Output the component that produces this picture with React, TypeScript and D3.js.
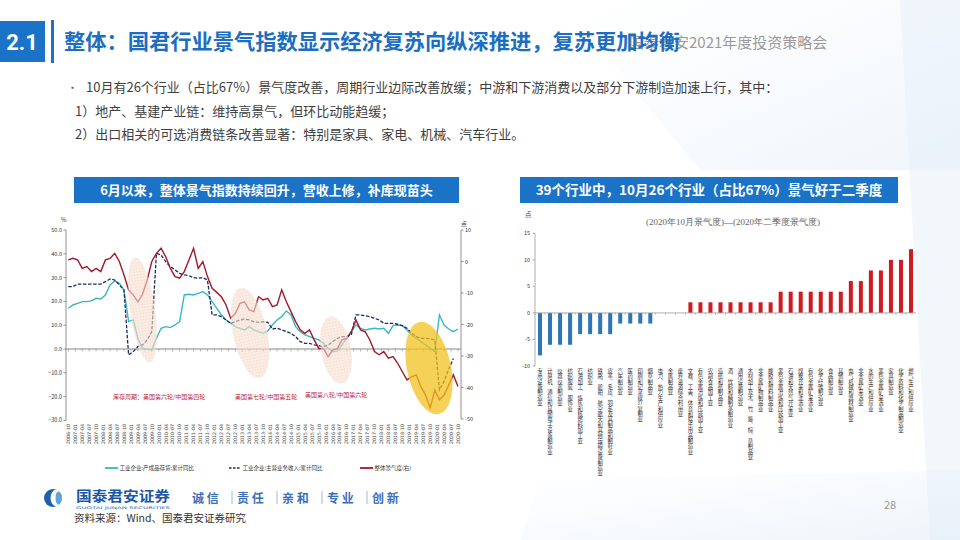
import React from "react";
import * as d3 from "d3";

// ---------- Data ----------
const START_YEAR = 2006;
const START_MONTH = 10;
function monthLabel(m: number): string {
  const t = START_MONTH - 1 + m;
  const y = START_YEAR + Math.floor(t / 12);
  const mo = (t % 12) + 1;
  return `${y}-${String(mo).padStart(2, "0")}`;
}
function monthIndex(s: string): number {
  const [y, mo] = s.split("-").map(Number);
  return (y - START_YEAR) * 12 + (mo - START_MONTH);
}

// bimonthly sample dates 2006-10 ... 2020-10
const sampleDates = d3.range(0, 169, 2).map(monthLabel);
// quarterly tick labels
const xTickLabels = d3.range(0, 169, 3).map(monthLabel);

// 工业企业:产成品存货:累计同比 (left axis, %)
const inventoryYoY = [
  17.1, 18.5, 19.2, 19.9, 19.9, 20.2, 21.3, 21.0, 22.7, 26.9, 28.6, 27.6, 24.8,
  11.5, 12.2, 4.5, 0.3, -0.1, -0.4, 4.5, 8.7, 9.4, 9.0, 10.1, 11.5, 22.7, 23.0,
  22.7, 23.4, 24.1, 22.7, 19.9, 17.1, 14.3, 12.2, 10.8, 9.4, 8.7, 8.0, 9.4, 8.0,
  7.3, 6.6, 7.6, 10.1, 12.2, 13.6, 16.0, 14.3, 9.4, 7.3, 5.9, 5.2, 4.5, 3.8, 2.4,
  0.3, -1.1, -0.8, 1.7, 4.5, 7.3, 10.1, 8.7, 8.0, 8.4, 8.7, 8.4, 8.7, 6.6, 9.8,
  10.1, 9.8, 8.0, 5.9, 4.5, 3.1, 1.7, 0.3, -1.1, 14.3, 10.1, 8.4, 7.3, 8.4,
];

// 工业企业:主营业务收入:累计同比 (left axis, %)
const revenueYoY: (number | null)[] = [
  26.2, 26.2, 27.3, 27.3, 27.3, 27.3, 27.3, 27.3, 28.3, 29.4, 29.0, 26.9, 24.8,
  -2.5, -1.1, 1.0, 1.7, 3.8, 7.3, 40.2, 39.5, 36.7, 34.6, 33.2, 31.8, 31.1, 30.8,
  30.0, 29.7, 30.0, 29.0, 14.3, 14.3, 13.6, 12.2, 10.8, 11.5, 12.2, 12.6, 12.2,
  11.5, 11.2, 11.5, 11.2, 8.4, 8.7, 8.0, 7.3, 6.6, 5.2, 3.1, 2.4, 2.4, 1.7, 1.4,
  1.0, 1.7, 3.1, 4.5, 5.2, 5.2, 5.9, 14.3, 14.3, 14.0, 13.6, 12.9, 12.2, 10.8,
  10.8, 10.8, 10.4, 9.8, 8.7, 6.6, 5.2, 4.5, 4.5, 4.2, 3.8, -17.2, -13.5, -8.5,
  -4.0, null,
];

// 整体景气度 (right axis, 点)
const prosperity = [
  0.5, 1.0, 0.5, -2.2, -1.6, -3.2, -2.2, -3.2, 0.5, 1.0, 2.6, 0.0, -4.3, -9.0,
  -10.6, -12.8, -10.4, -5.9, 0.0, 2.6, 4.2, 1.5, -2.2, -4.8, -5.3, -3.2, 0.5, 4.2,
  -2.2, 0.0, -4.8, -8.5, -9.8, -11.2, -13.8, -18.0, -16.5, -13.3, -12.8, -15.4,
  -15.9, -11.2, -12.2, -11.7, -14.3, -13.8, -9.0, -12.8, -15.9, -19.1, -21.7,
  -22.8, -21.7, -24.9, -27.6, -27.6, -30.2, -28.1, -27.6, -24.9, -24.4, -22.3,
  -18.6, -21.7, -22.3, -24.9, -28.6, -29.6, -28.6, -30.7, -30.2, -32.3, -35.0,
  -37.6, -36.6, -36.0, -39.7, -42.4, -46.5, -40.8, -43.9, -42.4, -39.2, -36.0,
  -39.7,
];

const leftTicks = [50, 40, 30, 20, 10, 0, -10, -20, -30];
const rightTicks = [10, 0, -10, -20, -30, -40, -50];

const legendNames = [
  "工业企业:产成品存货:累计同比",
  "工业企业:主营业务收入:累计同比",
  "整体景气度(右)",
];
const cycleNotes = [
  "库存周期：美国第六轮/中国第四轮",
  "美国第七轮/中国第五轮",
  "美国第八轮/中国第六轮",
];

// Right chart: industries and change of prosperity (点)
const industries = [
  "专用设备制造业",
  "计算机、通信和其他电子设备制造业",
  "仪器仪表制造业",
  "纺织服装、服饰业",
  "石油加工、炼焦和核燃料加工业",
  "纺织业",
  "铁路、船舶、航空航天和其他运输设备制造业",
  "皮革、毛皮、羽毛及其制品和制鞋业",
  "汽车制造业",
  "医药制造业",
  "印刷和记录媒介复制业",
  "烟草制品业",
  "电力、热力生产和供应业",
  "金属制品业",
  "废弃资源综合利用业",
  "文教、工美、体育和娱乐用品制造业",
  "有色金属冶炼和压延加工业",
  "农副食品加工业",
  "造纸和纸制品业",
  "酒、饮料和精制茶制造业",
  "通用设备制造业",
  "木材加工及木、竹、藤、棕、草制品业",
  "非金属矿物制品业",
  "橡胶和塑料制品业",
  "黑色金属冶炼和压延加工业",
  "石油和天然气开采业",
  "煤炭开采和洗选业",
  "有色金属矿采选业",
  "化学纤维制造业",
  "食品制造业",
  "其他制造业",
  "电气机械和器材制造业",
  "非金属矿采选业",
  "水的生产和供应业",
  "黑色金属矿采选业",
  "家具制造业",
  "化学原料和化学制品制造业",
  "燃气生产和供应业",
];
const industryDelta = [
  -8, -6, -6, -6, -4, -4, -4, -4, -2, -2, -2, -2, 0, 0, 0, 2, 2, 2, 2, 2, 2, 2, 2,
  2, 4, 4, 4, 4, 4, 4, 4, 6, 6, 8, 8, 10, 10, 12,
];
const barTicks = [15, 10, 5, 0, -5, -10];

const bulletLines = [
  "10月有26个行业（占比67%）景气度改善，周期行业边际改善放缓；中游和下游消费以及部分下游制造加速上行，其中：",
  "1）地产、基建产业链：维持高景气，但环比动能趋缓；",
  "2）出口相关的可选消费链条改善显著：特别是家具、家电、机械、汽车行业。",
];
const sloganWords = ["诚 信", "责 任", "亲 和", "专 业", "创 新"];

// ---------- Styles ----------
const CJK = "'Noto Sans CJK SC', 'Noto Sans', sans-serif";
const BLUE = "#1a73c6";
const CYAN = "#35b8c9";
const NAVY = "#1b2a5a";
const RED = "#a3182b";

export default function App() {
  // left chart scales
  const xL = d3.scaleLinear().domain([0, 168]).range([68.3, 458]);
  const yL = d3.scaleLinear().domain([-30, 50]).range([420.4, 230]);
  const yR = d3.scaleLinear().domain([-50, 10]).range([419, 230]);

  const lineL = d3
    .line<number | null>()
    .defined((v) => v != null)
    .x((_, i) => xL(monthIndex(sampleDates[i])))
    .y((v) => yL(v as number));
  const lineR = d3
    .line<number>()
    .x((_, i) => xL(monthIndex(sampleDates[i])))
    .y((v) => yR(v));

  // right chart scales
  const xB = d3
    .scaleBand<string>()
    .domain(industries)
    .range([535, 916])
    .paddingInner(0.6)
    .paddingOuter(0.3);
  const yB = d3.scaleLinear().domain([-10, 15]).range([366, 233.3]);

  const fmt1 = d3.format(".1f");

  return (
    <svg
      width={960}
      height={540}
      style={{ position: "absolute", left: 0, top: 0, background: "#fff" }}
      fontFamily={CJK}
    >
      <defs>
        <pattern id="dots" width="3" height="3" patternUnits="userSpaceOnUse">
          <rect width="3" height="3" fill="#f8e0d2" />
          <circle cx="1.5" cy="1.5" r="0.6" fill="#ebbda3" />
        </pattern>
        <linearGradient id="bgfade" x1="0" y1="0" x2="1" y2="1">
          <stop offset="0" stopColor="#e9f2fa" stopOpacity="0" />
          <stop offset="1" stopColor="#dfeaf6" stopOpacity="0.9" />
        </linearGradient>
      </defs>

      {/* faint background decorations */}
      <polygon points="560,0 960,0 960,170 700,170" fill="url(#bgfade)" opacity={0.55} />
      <polygon points="900,0 960,0 960,540 930,540" fill="#e6eff9" opacity={0.5} />
      <polygon points="540,480 960,470 960,540 520,540" fill="url(#bgfade)" opacity={0.6} />

      {/* title */}
      <rect x={0} y={21} width={45} height={41} fill={BLUE} />
      <text x={22} y={50} fill="#fff" fontSize={22} fontWeight="bold" textAnchor="middle" fontFamily="'Liberation Sans Narrow', 'Roboto', sans-serif">
        2.1
      </text>
      <rect x={51} y={20} width={3} height={43} fill={BLUE} />
      <text x={629} y={48} fill="#9a9a9a" fontSize={15}>
        国泰君安2021年度投资策略会
      </text>
      <text x={64} y={49} fill="#1b6ec2" fontSize={21} fontWeight="bold" textLength={616} lengthAdjust="spacingAndGlyphs">
        整体：国君行业景气指数显示经济复苏向纵深推进，复苏更加均衡
      </text>

      {/* bullets */}
      <text x={67} y={92} fill="#666" fontSize={11}>•</text>
      {bulletLines.map((t, i) => (
        <text
          key={i}
          x={i === 0 ? 86 : 75}
          y={92 + i * 23.5}
          fill="#404040"
          fontSize={13}
        >
          {t}
        </text>
      ))}

      {/* headers */}
      <rect x={74} y={177} width={385} height={26} fill={BLUE} />
      <text x={266.5} y={194.5} fill="#fff" fontSize={13} fontWeight="bold" textAnchor="middle">
        6月以来，整体景气指数持续回升，营收上修，补库现苗头
      </text>
      <rect x={520} y={177} width={378} height={26} fill={BLUE} />
      <text x={709} y={194.5} fill="#fff" fontSize={13.5} fontWeight="bold" textAnchor="middle">
        39个行业中，10月26个行业（占比67%）景气好于二季度
      </text>

      {/* ================= LEFT CHART ================= */}
      <rect x={46} y={208} width={438} height={272} fill="#fff" />
      {/* axes */}
      <line x1={66} x2={66} y1={230} y2={420.4} stroke="#777" strokeWidth={0.8} />
      <line x1={461} x2={461} y1={230} y2={419} stroke="#777" strokeWidth={0.8} />
      {leftTicks.map((t) => (
        <g key={"lt" + t}>
          <line x1={63.5} x2={66} y1={yL(t)} y2={yL(t)} stroke="#777" strokeWidth={0.8} />
          <text x={62} y={yL(t) + 2} fontSize={5.5} fill="#333" textAnchor="end">
            {fmt1(t)}
          </text>
        </g>
      ))}
      {rightTicks.map((t) => (
        <g key={"rt" + t}>
          <line x1={461} x2={463.5} y1={yR(t)} y2={yR(t)} stroke="#777" strokeWidth={0.8} />
          <text x={465} y={yR(t) + 2} fontSize={5.5} fill="#333">
            {t}
          </text>
        </g>
      ))}
      <text x={61} y={222} fontSize={6} fill="#333">%</text>
      <text x={461} y={226} fontSize={6} fill="#333">点</text>

      {/* zero line and quarterly ticks */}
      <line x1={66} x2={461} y1={yL(0)} y2={yL(0)} stroke="#888" strokeWidth={1.2} />
      {xTickLabels.map((lab) => (
        <line
          key={"xt" + lab}
          x1={xL(monthIndex(lab))}
          x2={xL(monthIndex(lab))}
          y1={yL(0)}
          y2={yL(0) + 2.5}
          stroke="#888"
          strokeWidth={0.6}
        />
      ))}
      {xTickLabels.map((lab) => (
        <text
          key={"xl" + lab}
          transform={`translate(${xL(monthIndex(lab)) + 1.8},${424}) rotate(-90)`}
          fontSize={4.8}
          fill="#444"
          textAnchor="end"
          fontFamily="'DejaVu Sans', sans-serif"
        >
          {lab}
        </text>
      ))}

      {/* series */}
      <path d={lineL(inventoryYoY) ?? ""} fill="none" stroke={CYAN} strokeWidth={1.4} />
      <path d={lineL(revenueYoY) ?? ""} fill="none" stroke={NAVY} strokeWidth={1.3} strokeDasharray="3.5,1.6" />
      <path d={lineR(prosperity) ?? ""} fill="none" stroke={RED} strokeWidth={1.4} />

      {/* cycle highlights */}
      <g opacity={0.62}>
        <ellipse cx={142.5} cy={310} rx={12.5} ry={53} fill="url(#dots)" transform="rotate(-8 142.5 310)" />
        <ellipse cx={250} cy={333} rx={17} ry={46} fill="url(#dots)" transform="rotate(-12 250 333)" />
        <ellipse cx={336} cy={350} rx={15} ry={34} fill="url(#dots)" transform="rotate(-10 336 350)" />
      </g>
      <ellipse cx={429} cy={368} rx={22} ry={47} fill="#f2c21f" opacity={0.75} transform="rotate(-12 429 368)" />

      {/* notes */}
      <text x={113} y={399} fontSize={6} fill="#c0282d">{cycleNotes[0]}</text>
      <text x={235} y={399} fontSize={6} fill="#c0282d">{cycleNotes[1]}</text>
      <text x={305} y={397} fontSize={6} fill="#c0282d">{cycleNotes[2]}</text>

      {/* legend */}
      <line x1={105} x2={118} y1={468} y2={468} stroke={CYAN} strokeWidth={1.8} />
      <text x={119.5} y={470} fontSize={5.5} fill="#333">{legendNames[0]}</text>
      <line x1={229} x2={240} y1={468} y2={468} stroke={NAVY} strokeWidth={1.6} strokeDasharray="2.5,1.5" />
      <text x={242.5} y={470} fontSize={5.5} fill="#333">{legendNames[1]}</text>
      <line x1={360} x2={373} y1={468} y2={468} stroke={RED} strokeWidth={1.8} />
      <text x={374.5} y={470} fontSize={5.5} fill="#333">{legendNames[2]}</text>

      {/* ================= RIGHT CHART ================= */}
      <text x={525} y={217} fontSize={6.5} fill="#444">点</text>
      <text x={733} y={225} fontSize={9} fill="#666" textAnchor="middle" fontFamily="'Liberation Serif', 'DejaVu Serif', serif">
        (2020年10月景气度)—(2020年二季度景气度)
      </text>
      <line x1={535} x2={535} y1={233.3} y2={366} stroke="#999" strokeWidth={0.8} />
      {barTicks.map((t) => (
        <g key={"bt" + t}>
          <line x1={532.5} x2={535} y1={yB(t)} y2={yB(t)} stroke="#999" strokeWidth={0.8} />
          <text x={530} y={yB(t) + 2} fontSize={5.5} fill="#333" textAnchor="end">
            {t}
          </text>
        </g>
      ))}
      {industries.map((name, i) => {
        const v = industryDelta[i];
        const x = xB(name) as number;
        return (
          <rect
            key={"b" + name}
            x={x}
            y={yB(Math.max(0, v))}
            width={xB.bandwidth()}
            height={Math.abs(yB(v) - yB(0))}
            fill={v < 0 ? "#2f76b6" : "#cf1a22"}
          />
        );
      })}
      <line x1={535} x2={916} y1={yB(0)} y2={yB(0)} stroke="#999" strokeWidth={0.8} />
      {industries.map((name) => (
        <line
          key={"bx" + name}
          x1={(xB(name) as number) - xB.step() * 0.3}
          x2={(xB(name) as number) - xB.step() * 0.3}
          y1={yB(0)}
          y2={yB(0) + 2}
          stroke="#999"
          strokeWidth={0.6}
        />
      ))}
      {industries.map((name) => (
        <text
          key={"bl" + name}
          x={(xB(name) as number) + xB.bandwidth() / 2}
          y={368}
          fontSize={5.4}
          fill="#333"
          style={{ writingMode: "vertical-rl" }}
        >
          {name}
        </text>
      ))}

      {/* ================= FOOTER ================= */}
      <circle cx={53} cy={498} r={9} fill="#1c5fae" />
      <ellipse cx={56} cy={498} rx={5.5} ry={8.2} fill="#fff" />
      <ellipse cx={58.5} cy={498} rx={3} ry={6.6} fill="#5aa6dc" />
      <text x={76} y={501} fontSize={14} fontWeight="bold" fill="#1c57a5" textLength={94} lengthAdjust="spacingAndGlyphs">
        国泰君安证券
      </text>
      <text x={76} y={508.5} fontSize={3.6} fill="#1c57a5" textLength={94} lengthAdjust="spacingAndGlyphs" fontFamily="'DejaVu Sans', sans-serif">
        GUOTAI JUNAN SECURITIES
      </text>
      {sloganWords.map((w, i) => (
        <g key={"s" + i}>
          <text x={192 + i * 45} y={502.5} fontSize={12} fontWeight="bold" fill="#3d6fb5">
            {w}
          </text>
          {i > 0 && (
            <line x1={187 + i * 45} x2={187 + i * 45} y1={491} y2={504} stroke="#8aa8d2" strokeWidth={0.8} />
          )}
        </g>
      ))}
      <text x={74} y={522} fontSize={10.5} fill="#333">
        资料来源：Wind、国泰君安证券研究
      </text>
      <text x={884} y={509} fontSize={11} fill="#999">28</text>
    </svg>
  );
}
